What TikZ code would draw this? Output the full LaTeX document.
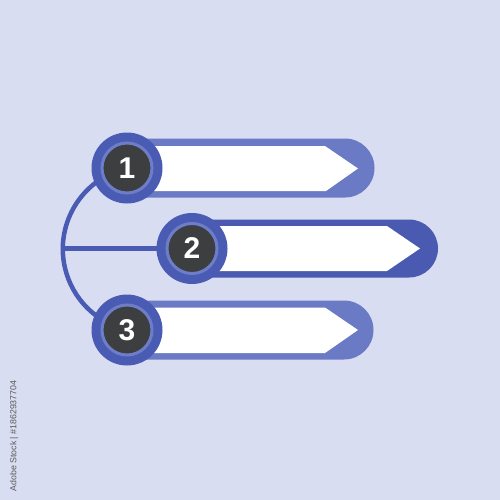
\documentclass[tikz,border=0pt]{standalone}
\usepackage{fontspec}
\setmainfont{Liberation Sans}
\definecolor{bg}{HTML}{D9DDF2}
\definecolor{ring}{HTML}{4A5BB3}
\definecolor{ringin}{HTML}{6E7DC8}
\definecolor{barlight}{HTML}{6B7AC4}
\definecolor{bardark}{HTML}{4A5AB0}
\definecolor{core}{HTML}{3C3E3F}
\tikzset{
  conn/.style={draw=ring, line width=4.5pt},
  numcirc/.style={circle, fill=core, draw=ringin, line width=3pt, minimum size=50pt, inner sep=0pt,
    text=white, font=\fontsize{30}{30}\selectfont\bfseries},
  outerring/.style={fill=ring},
  whitearrow/.style={fill=white},
  wm/.style={rotate=90, text=black!65, font=\fontsize{8.8}{8.8}\selectfont}
}
\begin{document}
\begin{tikzpicture}[x=1pt,y=-1pt]
\fill[bg] (0,0) rectangle (500,500);
\useasboundingbox (0,0) rectangle (500,500);
\coordinate (c1) at (127,168);
\coordinate (c2) at (192,248.5);
\coordinate (c3) at (127,330);
\coordinate (j) at (62.8,248.5);
% connectors
\draw[conn] (c1) arc[start angle=256.8, end angle=103.2, radius=83.2];
\draw[conn] (j) -- (c2);
% bars
\fill[barlight] (127,138.5) -- (345,138.5) arc[start angle=-90, end angle=90, radius=29.5] -- (127,197.5) -- cycle;
\fill[bardark] (192,219.5) -- (409,219.5) arc[start angle=-90, end angle=90, radius=29] -- (192,277.5) -- cycle;
\fill[barlight] (127,300.5) -- (344,300.5) arc[start angle=-90, end angle=90, radius=29.5] -- (127,359.5) -- cycle;
% white arrows
\fill[whitearrow] (127,146) -- (325,146) -- (358,168.5) -- (326,191) -- (127,191) -- cycle;
\fill[whitearrow] (192,226) -- (387,226) -- (420,248.5) -- (387,271) -- (192,271) -- cycle;
\fill[whitearrow] (127,307.5) -- (325,307.5) -- (358,330) -- (325,353) -- (127,353) -- cycle;
% circles
\fill[outerring] (c1) circle[radius=35.5];
\fill[outerring] (c2) circle[radius=35.5];
\fill[outerring] (c3) circle[radius=35.5];
\node[numcirc] (n1) at (c1) {1};
\node[numcirc] (n2) at (c2) {2};
\node[numcirc] (n3) at (c3) {3};
% side text
\node[wm] (wmark) at (14,436) {Adobe Stock | \#1862937704};
\end{tikzpicture}
\end{document}
